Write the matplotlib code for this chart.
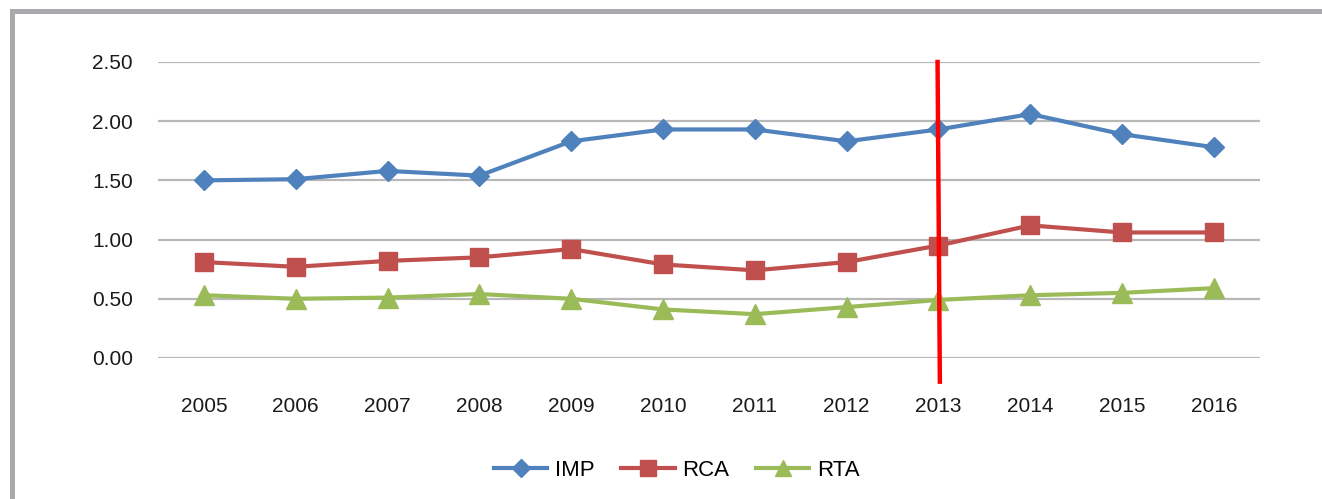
import matplotlib.pyplot as plt
from matplotlib.lines import Line2D

plt.rcParams['font.family'] = ['Liberation Sans', 'DejaVu Sans']

years = ['2005', '2006', '2007', '2008', '2009', '2010',
         '2011', '2012', '2013', '2014', '2015', '2016']
imp = [1.50, 1.51, 1.58, 1.54, 1.83, 1.93, 1.93, 1.83, 1.93, 2.06, 1.89, 1.78]
rca = [0.81, 0.77, 0.82, 0.85, 0.92, 0.79, 0.74, 0.81, 0.95, 1.12, 1.06, 1.06]
rta = [0.53, 0.50, 0.51, 0.54, 0.50, 0.41, 0.37, 0.43, 0.49, 0.53, 0.55, 0.59]
yticks = [0.0, 0.5, 1.0, 1.5, 2.0, 2.5]
mark_year = 8  # index of 2013

fig = plt.figure(figsize=(13.22, 4.99), dpi=100)
ax = fig.add_axes([0.1195, 0.2826, 0.8335, 0.5932])

x = list(range(len(years)))
ax.plot(x, imp, color='#4F81BD', lw=3, marker='D', ms=10.5, mec='#4F81BD', label='IMP')
ax.plot(x, rca, color='#C0504D', lw=3, marker='s', ms=13.5, mec='#C0504D', label='RCA')
ax.plot(x, rta, color='#9BBB59', lw=3, marker='^', ms=14, mec='#9BBB59', label='RTA')

# red marker line at 2013
ax.plot([mark_year - 0.01, mark_year + 0.015], [2.5, -0.2], color='red', lw=3.2,
        clip_on=False, zorder=5)

ax.set_xlim(-0.5, 11.5)
ax.set_ylim(0, 2.5)
ax.set_yticks(yticks)
ax.set_yticklabels(['%.2f' % v for v in yticks])
ax.set_xticks(x)
ax.set_xticklabels(years)
ax.tick_params(length=0, labelsize=15, colors='#1a1a1a')
ax.tick_params(axis='y', pad=18)
ax.tick_params(axis='x', pad=28)
ax.grid(axis='y', color='#B8B8B8', lw=1.6)
ax.set_axisbelow(True)
for s in ax.spines.values():
    s.set_visible(False)

leg = ax.legend(loc='center', ncol=3, frameon=False, fontsize=16, handlelength=2.4,
                columnspacing=1.2, handletextpad=0.35, markerscale=0.85,
                bbox_to_anchor=(0.512, 0.058), bbox_transform=fig.transFigure)

# gray frame (left and top)
fig.add_artist(Line2D([0.0094, 0.0094], [0, 0.9775], color='#A7A9AC', lw=3.6,
                      transform=fig.transFigure, solid_capstyle='projecting'))
fig.add_artist(Line2D([0.0094, 1.0], [0.9775, 0.9775], color='#A7A9AC', lw=3.6,
                      transform=fig.transFigure, solid_capstyle='projecting'))

plt.savefig('out.png', dpi=100)
